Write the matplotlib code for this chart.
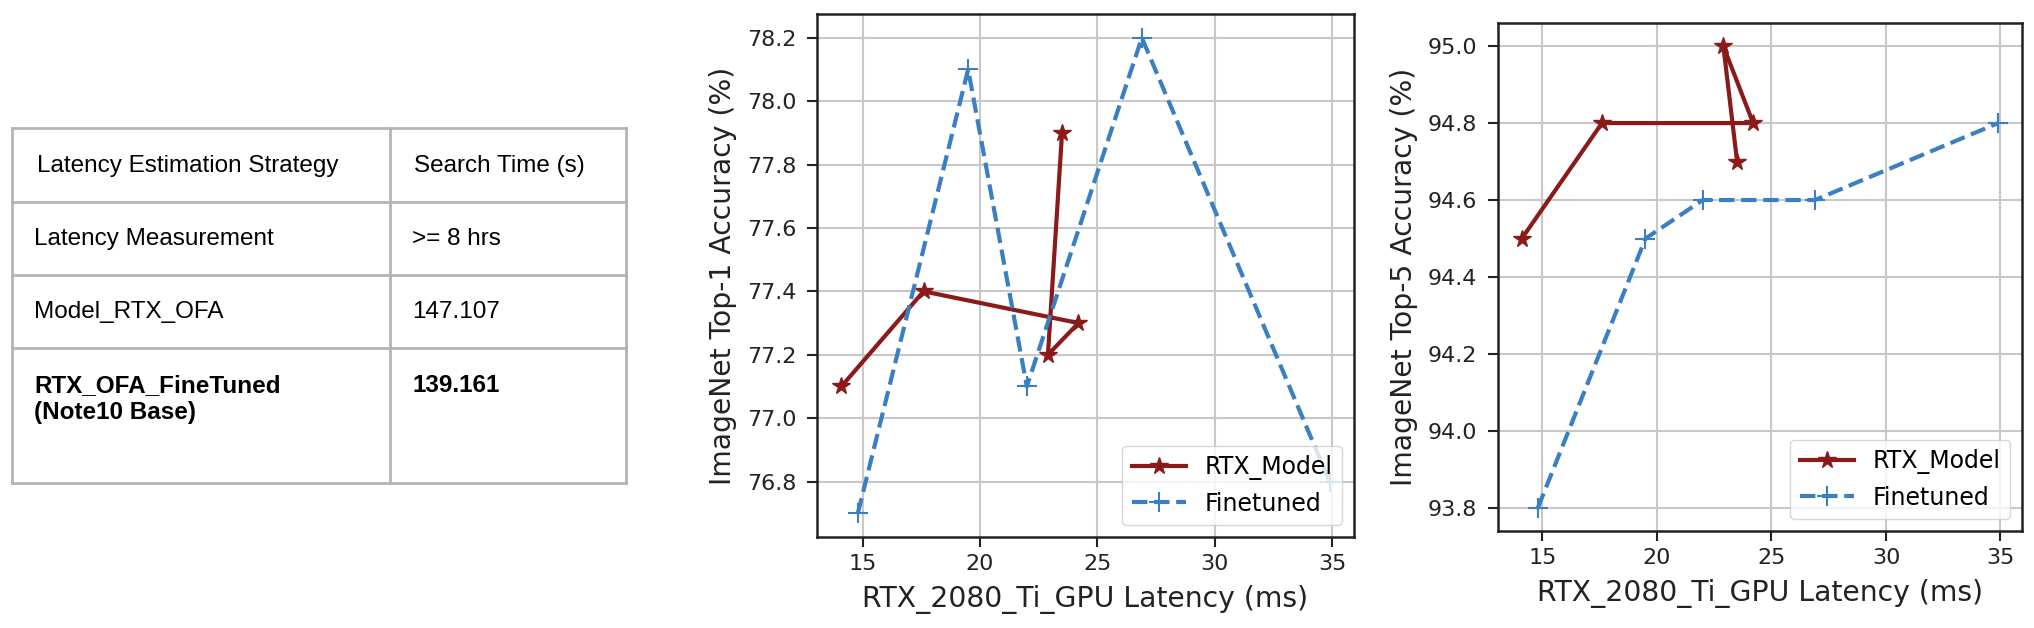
import matplotlib.pyplot as plt

# table content
table_header = ["Latency Estimation Strategy", "Search Time (s)"]
table_rows = [
    ["Latency Measurement", ">= 8 hrs"],
    ["Model_RTX_OFA", "147.107"],
    ["RTX_OFA_FineTuned\n(Note10 Base)", "139.161"],
]

# latency (ms) on RTX 2080 Ti
rtx_lat = [14.1, 17.6, 24.2, 22.9, 23.5]
ft_lat = [14.8, 19.5, 22.0, 26.9, 34.9]

# top-1 / top-5 accuracy (%)
rtx_top1 = [77.1, 77.4, 77.3, 77.2, 77.9]
ft_top1 = [76.7, 78.1, 77.1, 78.2, 76.8]
rtx_top5 = [94.5, 94.8, 94.8, 95.0, 94.7]
ft_top5 = [93.8, 94.5, 94.6, 94.6, 94.8]

W, H = 2034, 628
fig = plt.figure(figsize=(W / 100, H / 100), dpi=100)

# ---- table drawn in pixel coords ----
tab = fig.add_axes([0, 0, 1, 1], zorder=-1)
tab.set_xlim(0, W)
tab.set_ylim(H, 0)
tab.axis('off')

x0, xs, x1 = 12, 390, 626
row_y = [128, 202, 275, 348, 483]
border = dict(color='#b4b4b4', lw=2, solid_capstyle='projecting')
for y in row_y:
    tab.plot([x0, x1], [y, y], **border)
for x in (x0, xs, x1):
    tab.plot([x, x], [row_y[0], row_y[-1]], **border)

tfont = dict(family=['Liberation Sans', 'DejaVu Sans'], fontsize=17.5, color='black')
tab.text(37, 166, table_header[0], va='center', ha='left', **tfont)
tab.text(414, 166, table_header[1], va='center', ha='left', **tfont)
for i, (a, b) in enumerate(table_rows):
    top = row_y[i + 1]
    bold = 'bold' if i == len(table_rows) - 1 else 'normal'
    tab.text(34, top + 26, a, va='top', ha='left', fontweight=bold,
             linespacing=1.25, **tfont)
    tab.text(412, top + 26, b, va='top', ha='left', fontweight=bold, **tfont)

red = '#8b1a1a'
blue = '#3a7fc1'


def draw(ax, rtx_acc, ft_acc, ylabel):
    ax.plot(rtx_lat, rtx_acc, color=red, lw=3, marker='*', ms=13, label='RTX_Model')
    ax.plot(ft_lat, ft_acc, color=blue, lw=3, ls='--', marker='+', ms=14,
            mew=1.5, label='Finetuned')
    ax.grid(True, color='#c8c8c8', lw=1.5)
    ax.set_axisbelow(True)
    ax.set_xticks([15, 20, 25, 30, 35])
    ax.tick_params(labelsize=16, length=7, width=1.5, colors='#222222')
    ax.tick_params(axis='y', pad=8)
    ax.tick_params(axis='x', pad=5)
    for s in ax.spines.values():
        s.set_linewidth(1.8)
        s.set_color('#222222')
    ax.set_xlabel('RTX_2080_Ti_GPU Latency (ms)', fontsize=20.3, color='#222222',
                  labelpad=8)
    ax.set_ylabel(ylabel, fontsize=20.3, color='#222222', labelpad=7)
    ax.legend(loc='lower right', fontsize=17, handlelength=2.3, framealpha=0.8)


ax1 = fig.add_axes([817 / W, 1 - 537 / H, 537 / W, 523 / H])
draw(ax1, rtx_top1, ft_top1, 'ImageNet Top-1 Accuracy (%)')
ax1.set_yticks([76.8, 77.0, 77.2, 77.4, 77.6, 77.8, 78.0, 78.2])

ax2 = fig.add_axes([1498 / W, 1 - 531 / H, 524 / W, 508 / H])
draw(ax2, rtx_top5, ft_top5, 'ImageNet Top-5 Accuracy (%)')
ax2.set_yticks([93.8, 94.0, 94.2, 94.4, 94.6, 94.8, 95.0])

fig.savefig('out.png', dpi=100)
